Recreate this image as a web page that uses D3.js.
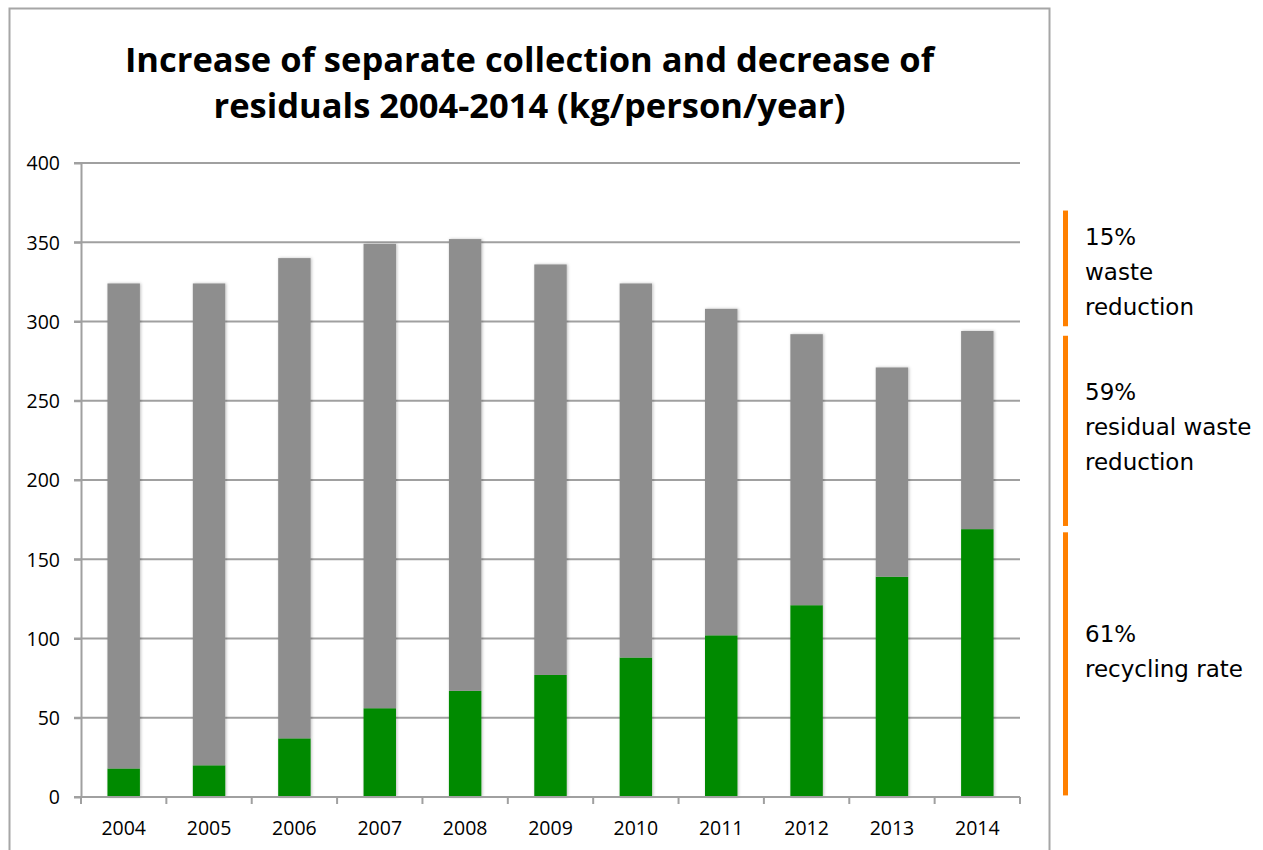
<!DOCTYPE html>
<html>
<head>
<meta charset="utf-8">
<script src="https://cdn.jsdelivr.net/npm/d3@7"></script>
<style>
  body { margin: 0; background: #fff; }
  svg { display: block; }
</style>
</head>
<body>
<script>
// values (kg/person/year)
var years = ["2004", "2005", "2006", "2007", "2008", "2009", "2010", "2011", "2012", "2013", "2014"];
var separateCollection = [18, 20, 37, 56, 67, 77, 88, 102, 121, 139, 169];
var residualWaste = [306, 304, 303, 293, 285, 259, 236, 206, 171, 132, 125];
var yTicks = [0, 50, 100, 150, 200, 250, 300, 350, 400];
var titleLines = ["Increase of separate collection and decrease of", "residuals 2004-2014 (kg/person/year)"];
// side notes: value range they span, and text lines
var noteRanges = [[297, 370], [171, 291], [1, 167]];
var noteTexts = [["15%", "waste", "reduction"], ["59%", "residual waste", "reduction"], ["61%", "recycling rate"]];

var W = 1263, H = 850;
var plot = { left: 81, right: 1020, top: 163, bottom: 797 };
var labelFont = "'Open Sans', 'Liberation Sans', sans-serif";

var svg = d3.select("body").append("svg")
  .attr("width", W)
  .attr("height", H);

// soft shadow like the spreadsheet bars
var defs = svg.append("defs");
var f = defs.append("filter").attr("id", "shadow")
  .attr("x", "-30%").attr("y", "-5%").attr("width", "160%").attr("height", "110%");
f.append("feDropShadow").attr("dx", 1).attr("dy", 0).attr("stdDeviation", 1.5)
  .attr("flood-color", "#000").attr("flood-opacity", 0.25);

// chart frame
svg.append("rect")
  .attr("x", 9.5).attr("y", 8.5)
  .attr("width", 1040).attr("height", 900)
  .attr("fill", "none")
  .attr("stroke", "#a6a6a6")
  .attr("stroke-width", 2);

// title
svg.append("g").selectAll("text")
  .data(titleLines)
  .enter().append("text")
  .attr("x", 529.5)
  .attr("y", (d, i) => 72 + i * 46)
  .attr("text-anchor", "middle")
  .style("font-family", "'Open Sans', Lato, sans-serif")
  .style("font-weight", "bold")
  .style("font-size", "34.5px")
  .text(d => d);

// scales
var x = d3.scaleBand().domain(years).range([plot.left, plot.right]).paddingInner(0.62).paddingOuter(0.31);
var xBand = d3.scaleBand().domain(years).range([plot.left, plot.right]);
var y = d3.scaleLinear().domain([0, 400]).range([plot.bottom, plot.top]);

// gridlines
svg.append("g").selectAll("line")
  .data(yTicks.filter(d => d > 0))
  .enter().append("line")
  .attr("x1", plot.left - 7).attr("x2", plot.right)
  .attr("y1", d => y(d)).attr("y2", d => y(d))
  .attr("stroke", "#a0a0a0")
  .attr("stroke-width", 2);

// stacked bars
var table = years.map((yr, i) => ({ year: yr, separate: separateCollection[i], residual: residualWaste[i] }));
var stack = d3.stack().keys(["separate", "residual"])(table);
var colors = { separate: "#008a00", residual: "#8e8e8e" };

svg.append("g").attr("filter", "url(#shadow)")
  .selectAll("g")
  .data(stack)
  .enter().append("g")
  .attr("fill", d => colors[d.key])
  .selectAll("rect")
  .data(d => d)
  .enter().append("rect")
  .attr("x", d => x(d.data.year))
  .attr("width", x.bandwidth())
  .attr("y", d => y(d[1]))
  .attr("height", d => y(d[0]) - y(d[1]));

// y axis
var yAxis = svg.append("g")
  .attr("transform", "translate(" + plot.left + ",0)")
  .call(d3.axisLeft(y).tickValues(yTicks).tickSize(7).tickSizeOuter(0).tickPadding(14));
yAxis.attr("font-family", labelFont).attr("font-size", 19.5);
yAxis.select(".domain").attr("stroke", "#a0a0a0").attr("stroke-width", 2);
yAxis.selectAll(".tick line").attr("stroke", "#a0a0a0").attr("stroke-width", 2);
yAxis.selectAll(".tick text").attr("dy", "0.35em").attr("fill", "#000");

// x axis: line plus ticks on the band borders
svg.append("line")
  .attr("x1", plot.left - 7).attr("x2", plot.right)
  .attr("y1", plot.bottom).attr("y2", plot.bottom)
  .attr("stroke", "#a0a0a0").attr("stroke-width", 2);

var borders = years.map(d => xBand(d)).concat([plot.right]);
svg.append("g").selectAll("line")
  .data(borders)
  .enter().append("line")
  .attr("x1", d => d).attr("x2", d => d)
  .attr("y1", plot.bottom).attr("y2", plot.bottom + 7)
  .attr("stroke", "#a0a0a0").attr("stroke-width", 2);

svg.append("g").selectAll("text")
  .data(years)
  .enter().append("text")
  .attr("x", d => xBand(d) + xBand.bandwidth() / 2)
  .attr("y", 835)
  .attr("text-anchor", "middle")
  .style("font-family", labelFont)
  .style("font-size", "19.5px")
  .text(d => d);

// side notes
var notes = svg.append("g");
notes.selectAll("rect")
  .data(noteRanges)
  .enter().append("rect")
  .attr("x", 1063)
  .attr("width", 5)
  .attr("y", d => y(d[1]))
  .attr("height", d => y(d[0]) - y(d[1]))
  .attr("fill", "#ff8000");

var noteBaseline = [245, 400, 642];
noteTexts.forEach(function(lines, i) {
  notes.append("text")
    .attr("x", 1085)
    .attr("y", noteBaseline[i])
    .style("font-family", "'DejaVu Sans', Verdana, sans-serif")
    .style("font-size", "23px")
    .selectAll("tspan")
    .data(lines)
    .enter().append("tspan")
    .attr("x", 1085)
    .attr("dy", (d, j) => j === 0 ? 0 : 35)
    .text(d => d);
});
</script>
</body>
</html>
